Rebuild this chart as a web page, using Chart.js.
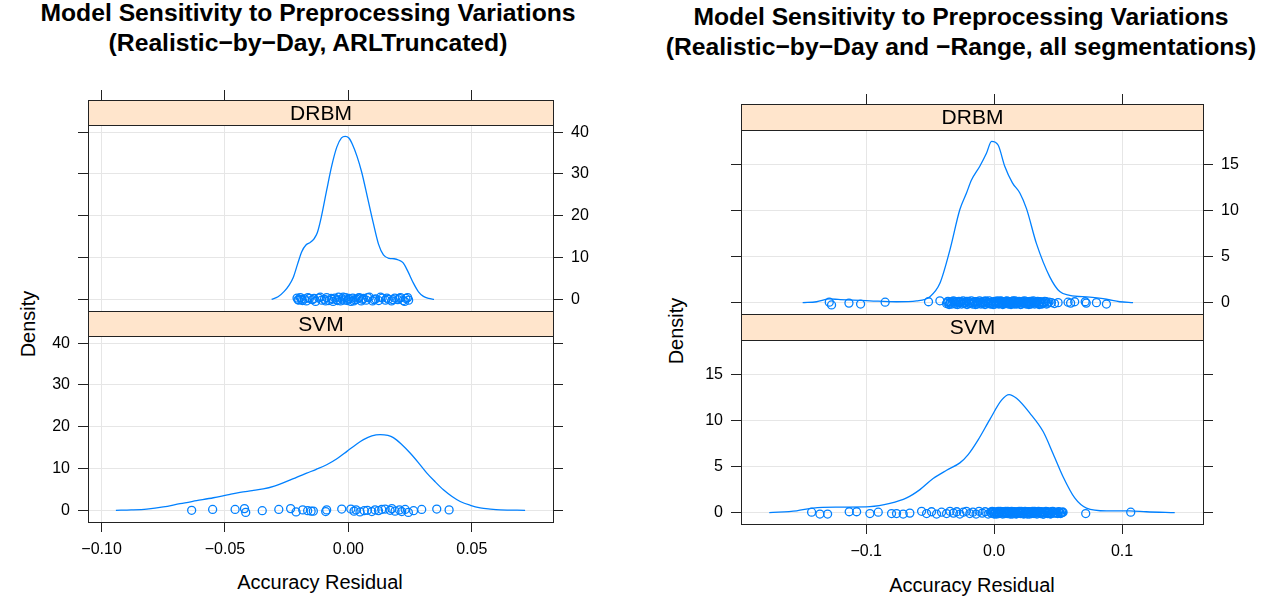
<!DOCTYPE html>
<html>
<head>
<meta charset="utf-8">
<script src="https://cdn.jsdelivr.net/npm/chart.js@4.4.1/dist/chart.umd.min.js"></script>
<style>
  html, body { margin: 0; padding: 0; background: #fff; overflow: hidden; }
  #page { position: relative; width: 1265px; height: 598px; font-family: "Liberation Sans", Arial, Helvetica, sans-serif; color: #000; }
  #page canvas { position: absolute; }
  .title { position: absolute; font-weight: bold; font-size: 24.7px; line-height: 30px; text-align: center; white-space: nowrap; }
  .xlab { position: absolute; font-size: 20px; white-space: nowrap; transform: translate(-50%, -50%); }
  .ylab { position: absolute; font-size: 20px; white-space: nowrap; transform: translate(-50%, -50%) rotate(-90deg); }
</style>
</head>
<body>
<div id="page">
  <div class="title" style="left:0;width:616px;top:-2px">Model Sensitivity to Preprocessing Variations<br>(Realistic−by−Day, ARLTruncated)</div>
  <div class="title" style="left:657px;width:608px;top:2px">Model Sensitivity to Preprocessing Variations<br>(Realistic−by−Day and −Range, all segmentations)</div>
  <div class="xlab" style="left:320px;top:582px">Accuracy Residual</div>
  <div class="xlab" style="left:972px;top:585px">Accuracy Residual</div>
  <div class="ylab" style="left:28px;top:324px">Density</div>
  <div class="ylab" style="left:676px;top:331px">Density</div>
</div>
<script>
// axis ticks
const leftXTicks = [-0.10, -0.05, 0.00, 0.05];
const leftXTickLabels = ['−0.10', '−0.05', '0.00', '0.05'];
const leftYTicks = [0, 10, 20, 30, 40];
const rightXTicks = [-0.1, 0.0, 0.1];
const rightXTickLabels = ['−0.1', '0.0', '0.1'];
const rightYTicks = [0, 5, 10, 15];

// left figure (Realistic-by-Day, ARLTruncated): density curves [residual, density]
const leftDrbmDensity = [
  [-0.0311, 0.0], [-0.0285, 0.6], [-0.0260, 1.9], [-0.0240, 3.4], [-0.0223, 5.3], [-0.0205, 8.6],
  [-0.0189, 11.4], [-0.0172, 13.0], [-0.0155, 13.6], [-0.0140, 14.4], [-0.0126, 15.9], [-0.0110, 19.6],
  [-0.0088, 26.1], [-0.0068, 31.8], [-0.0047, 36.4], [-0.0028, 38.6], [-0.0013, 39.0], [0.0002, 38.6],
  [0.0017, 37.0], [0.0035, 34.2], [0.0054, 30.4], [0.0078, 24.2], [0.0101, 18.2], [0.0122, 13.2],
  [0.0142, 10.6], [0.0165, 9.8], [0.0185, 9.7], [0.0203, 9.4], [0.0222, 8.7], [0.0240, 6.8],
  [0.0264, 3.8], [0.0284, 1.8], [0.0304, 0.7], [0.0325, 0.2], [0.0347, 0.0]
];
const leftSvmDensity = [
  [-0.0942, 0.0], [-0.0880, 0.1], [-0.0817, 0.3], [-0.0750, 0.8], [-0.0682, 1.6], [-0.0615, 2.3],
  [-0.0547, 3.0], [-0.0490, 3.7], [-0.0439, 4.3], [-0.0390, 4.7], [-0.0345, 5.1], [-0.0300, 5.8],
  [-0.0250, 6.9], [-0.0210, 7.9], [-0.0169, 8.9], [-0.0130, 9.8], [-0.0088, 10.9], [-0.0045, 12.4],
  [-0.0006, 14.1], [0.0030, 15.7], [0.0061, 16.9], [0.0095, 17.8], [0.0129, 18.1], [0.0160, 17.9],
  [0.0182, 17.4], [0.0215, 15.8], [0.0250, 13.7], [0.0285, 11.3], [0.0318, 8.9], [0.0352, 6.8],
  [0.0385, 4.9], [0.0420, 3.3], [0.0453, 2.1], [0.0494, 1.2], [0.0534, 0.6], [0.0575, 0.3],
  [0.0615, 0.1], [0.0716, 0.0]
];
// observed residuals [residual, jittered height]
const leftDrbmPoints = [
  [-0.0208, 0.3], [-0.0201, -0.2], [-0.0195, 0.4], [-0.0186, -0.3], [-0.0178, 0.1], [-0.0170, -0.4],
  [-0.0158, 0.2], [-0.0146, -0.1], [-0.0133, -0.5], [-0.0120, 0.3], [-0.0108, -0.2], [-0.0097, 0.0],
  [-0.0088, 0.4], [-0.0079, -0.3], [-0.0070, 0.2], [-0.0062, -0.5], [-0.0055, 0.3], [-0.0047, -0.1],
  [-0.0040, 0.5], [-0.0032, -0.4], [-0.0025, 0.1], [-0.0018, -0.2], [-0.0011, 0.4], [-0.0004, -0.3],
  [0.0003, 0.2], [0.0010, -0.5], [0.0018, 0.3], [0.0026, -0.1], [0.0035, 0.0], [0.0044, 0.4],
  [0.0052, -0.4], [0.0061, 0.2], [0.0072, -0.2], [0.0085, 0.5], [0.0098, -0.4], [0.0110, 0.1],
  [0.0123, -0.3], [0.0137, 0.3], [0.0150, -0.2], [0.0162, 0.0], [0.0175, -0.4], [0.0188, 0.3],
  [0.0200, -0.1], [0.0211, 0.4], [0.0222, -0.3], [0.0233, 0.2], [0.0244, -0.2],
  [-0.0204, -0.1], [-0.0190, 0.0], [-0.0164, 0.4], [-0.0139, 0.2], [-0.0114, 0.5], [-0.0092, -0.4],
  [-0.0066, 0.0], [-0.0044, -0.3], [-0.0021, 0.5], [0.0000, 0.0], [0.0022, -0.4], [0.0040, 0.3],
  [0.0057, 0.0], [0.0078, 0.4], [0.0104, -0.1], [0.0130, 0.5], [0.0156, 0.3], [0.0181, -0.1],
  [0.0206, 0.2], [0.0228, -0.5], [0.0240, 0.4]
];
const leftSvmPoints = [
  [-0.0635, 0.0], [-0.0550, 0.2], [-0.0459, 0.2], [-0.0421, 0.4], [-0.0416, -0.5], [-0.0349, -0.1],
  [-0.0282, 0.2], [-0.0234, 0.4], [-0.0212, -0.4], [-0.0185, 0.1], [-0.0165, -0.1], [-0.0151, -0.2],
  [-0.0142, -0.2], [-0.0092, -0.3], [-0.0088, 0.1], [-0.0027, 0.3], [0.0010, 0.3], [0.0023, -0.2],
  [0.0031, 0.1], [0.0047, -0.4], [0.0064, -0.1], [0.0077, 0.0], [0.0095, -0.3], [0.0108, 0.1],
  [0.0122, -0.1], [0.0135, 0.2], [0.0149, 0.3], [0.0169, 0.0], [0.0176, 0.4], [0.0189, -0.2],
  [0.0207, 0.1], [0.0216, -0.3], [0.0230, 0.2], [0.0243, -0.5], [0.0264, -0.1], [0.0297, 0.2],
  [0.0358, 0.3], [0.0408, 0.1]
];

// right figure (Realistic-by-Day and -Range, all segmentations)
const rightDrbmDensity = [
  [-0.1497, 0.0], [-0.1388, 0.1], [-0.1284, 0.4], [-0.1220, 0.35], [-0.1153, 0.3], [-0.0971, 0.2],
  [-0.0763, 0.1], [-0.0606, 0.2], [-0.0502, 0.65], [-0.0424, 2.1], [-0.0346, 5.7], [-0.0268, 10.1],
  [-0.0216, 11.9], [-0.0177, 13.3], [-0.0112, 14.8], [-0.0060, 16.2], [-0.0020, 17.5], [0.0031, 17.1],
  [0.0083, 14.8], [0.0143, 13.0], [0.0201, 11.9], [0.0253, 10.2], [0.0331, 6.4], [0.0435, 2.8],
  [0.0513, 1.2], [0.0591, 0.8], [0.0748, 0.6], [0.0878, 0.37], [0.0982, 0.1], [0.1086, 0.0]
];
const rightSvmDensity = [
  [-0.1758, 0.0], [-0.1544, 0.2], [-0.1414, 0.5], [-0.1205, 0.6], [-0.0971, 0.65], [-0.0815, 1.0],
  [-0.0684, 1.6], [-0.0580, 2.5], [-0.0477, 3.7], [-0.0372, 4.6], [-0.0268, 5.4], [-0.0203, 6.3],
  [-0.0125, 7.9], [-0.0034, 10.1], [0.0058, 12.2], [0.0117, 12.8], [0.0175, 12.4], [0.0279, 10.8],
  [0.0383, 8.8], [0.0461, 6.4], [0.0539, 3.9], [0.0630, 1.6], [0.0722, 0.5], [0.0878, 0.2],
  [0.1060, 0.2], [0.1190, 0.1], [0.1412, 0.0]
];
const rightDrbmPoints = [
  [-0.1289, 0.05], [-0.1271, -0.25], [-0.1135, -0.05], [-0.1044, -0.15], [-0.0852, 0.05], [-0.0513, 0.1],
  [-0.0424, 0.2], [-0.0372, -0.1], [-0.0361, 0.15], [-0.0352, -0.2], [-0.0340, 0.05], [-0.0331, -0.15],
  [-0.0318, 0.2], [-0.0309, -0.05], [-0.0297, 0.1], [-0.0286, -0.2], [-0.0275, 0.15], [-0.0266, 0.0],
  [-0.0254, -0.15], [-0.0243, 0.2], [-0.0233, -0.1], [-0.0221, 0.05], [-0.0212, -0.2], [-0.0200, 0.15],
  [-0.0189, -0.05], [-0.0178, 0.2], [-0.0169, -0.15], [-0.0157, 0.05], [-0.0146, -0.2], [-0.0137, 0.1],
  [-0.0125, -0.05], [-0.0114, 0.2], [-0.0103, -0.15], [-0.0094, 0.0], [-0.0082, 0.15], [-0.0071, -0.2],
  [-0.0062, 0.1], [-0.0050, -0.1], [-0.0039, 0.2], [-0.0030, -0.15], [-0.0018, 0.05], [-0.0007, -0.2],
  [0.0004, 0.15], [0.0013, -0.05], [0.0025, 0.2], [0.0036, -0.15], [0.0045, 0.0], [0.0057, 0.15],
  [0.0068, -0.2], [0.0077, 0.1], [0.0089, -0.1], [0.0100, 0.2], [0.0111, -0.15], [0.0120, 0.05],
  [0.0132, -0.2], [0.0143, 0.15], [0.0152, -0.05], [0.0164, 0.2], [0.0175, -0.15], [0.0186, 0.0],
  [0.0195, 0.15], [0.0207, -0.2], [0.0218, 0.1], [0.0229, -0.1], [0.0238, 0.2], [0.0250, -0.15],
  [0.0261, 0.05], [0.0272, -0.2], [0.0283, 0.15], [0.0294, -0.05], [0.0306, 0.2], [0.0317, -0.15],
  [0.0329, 0.0], [0.0340, 0.15], [0.0352, -0.2], [0.0365, 0.1], [0.0381, -0.1], [0.0396, 0.15],
  [0.0410, -0.15], [0.0428, 0.05], [0.0448, 0.0], [0.0472, -0.1], [0.0500, 0.0], [0.0578, 0.05],
  [0.0598, -0.05], [0.0630, 0.1], [0.0712, 0.1], [0.0720, -0.05], [0.0800, 0.0], [0.0878, -0.15],
  [-0.0366, 0.05], [-0.0346, -0.05], [-0.0325, 0.1], [-0.0302, -0.15], [-0.0280, 0.0], [-0.0260, 0.1],
  [-0.0238, -0.05], [-0.0216, 0.15], [-0.0195, -0.1], [-0.0173, 0.0], [-0.0151, 0.1], [-0.0131, -0.15],
  [-0.0108, 0.05], [-0.0088, -0.1], [-0.0066, 0.2], [-0.0045, 0.0], [-0.0024, -0.1], [-0.0002, 0.05],
  [0.0008, -0.15], [0.0019, 0.1], [0.0030, 0.0], [0.0041, -0.1], [0.0051, 0.2], [0.0062, 0.0],
  [0.0072, -0.1], [0.0083, 0.05], [0.0094, 0.15], [0.0105, -0.05], [0.0115, 0.1], [0.0126, -0.1],
  [0.0138, 0.0], [0.0148, 0.2], [0.0158, -0.15], [0.0170, 0.05], [0.0181, -0.1], [0.0190, 0.1],
  [0.0201, 0.0], [0.0212, -0.15], [0.0223, 0.15], [0.0234, 0.0], [0.0244, -0.05], [0.0256, 0.1],
  [0.0267, -0.1], [0.0278, 0.05], [0.0289, -0.15], [0.0300, 0.1], [0.0312, 0.0], [0.0323, -0.05],
  [0.0335, 0.1], [0.0346, -0.1], [0.0358, 0.05], [0.0373, -0.15], [0.0388, 0.0], [0.0403, 0.1],
  [0.0418, -0.05]
];
const rightSvmPoints = [
  [-0.1427, 0.05], [-0.1362, -0.15], [-0.1302, -0.15], [-0.1133, 0.1], [-0.1075, 0.1], [-0.0971, -0.1],
  [-0.0906, 0.05], [-0.0802, -0.1], [-0.0763, -0.1], [-0.0711, -0.15], [-0.0659, -0.05], [-0.0567, 0.15],
  [-0.0528, -0.1], [-0.0489, 0.1], [-0.0450, -0.15], [-0.0411, 0.05], [-0.0372, -0.1], [-0.0345, 0.15],
  [-0.0318, -0.05], [-0.0292, 0.1], [-0.0268, -0.15], [-0.0241, 0.05], [-0.0217, 0.15], [-0.0190, -0.1],
  [-0.0166, 0.05], [-0.0141, -0.15], [-0.0118, 0.15], [-0.0093, -0.05], [-0.0070, 0.1], [-0.0047, -0.15],
  [-0.0027, 0.05], [-0.0015, 0.15], [-0.0003, -0.1], [0.0008, 0.05], [0.0020, -0.15], [0.0032, 0.15],
  [0.0043, -0.05], [0.0055, 0.1], [0.0067, -0.15], [0.0078, 0.05], [0.0090, 0.15], [0.0102, -0.1],
  [0.0113, 0.05], [0.0125, -0.15], [0.0137, 0.15], [0.0148, -0.05], [0.0160, 0.1], [0.0172, -0.15],
  [0.0183, 0.05], [0.0195, 0.15], [0.0207, -0.1], [0.0218, 0.05], [0.0230, -0.15], [0.0242, 0.15],
  [0.0253, -0.05], [0.0265, 0.1], [0.0277, -0.15], [0.0288, 0.05], [0.0300, 0.15], [0.0312, -0.1],
  [0.0323, 0.05], [0.0335, -0.15], [0.0347, 0.15], [0.0358, -0.05], [0.0370, 0.1], [0.0382, -0.15],
  [0.0393, 0.05], [0.0405, 0.15], [0.0417, -0.1], [0.0428, 0.05], [0.0440, -0.15], [0.0452, 0.1],
  [0.0465, -0.05], [0.0480, 0.05], [0.0497, -0.1], [0.0512, 0.05], [0.0528, 0.0], [0.0539, 0.05],
  [0.0716, -0.1], [0.1068, 0.05],
  [-0.0021, -0.05], [-0.0009, 0.1], [0.0002, -0.15], [0.0014, 0.05], [0.0026, 0.0], [0.0037, -0.1],
  [0.0049, 0.15], [0.0061, -0.05], [0.0072, 0.1], [0.0084, -0.1], [0.0096, 0.0], [0.0107, 0.15],
  [0.0119, -0.05], [0.0131, 0.05], [0.0142, -0.15], [0.0154, 0.1], [0.0166, 0.0], [0.0177, -0.1],
  [0.0189, 0.1], [0.0201, -0.05], [0.0212, 0.15], [0.0224, 0.0], [0.0236, -0.1], [0.0247, 0.05],
  [0.0259, -0.15], [0.0271, 0.1], [0.0282, 0.0], [0.0294, -0.1], [0.0306, 0.05], [0.0317, 0.15],
  [0.0329, -0.05], [0.0341, 0.0], [0.0352, 0.1], [0.0364, -0.1], [0.0376, 0.05], [0.0387, -0.15],
  [0.0399, 0.0], [0.0411, 0.1], [0.0422, -0.05], [0.0434, 0.05], [0.0446, -0.1], [0.0458, 0.15],
  [0.0472, 0.0], [0.0488, -0.05], [0.0504, 0.1], [0.0520, -0.1], [0.0534, 0.05]
];

Chart.defaults.font.family = '"Liberation Sans", Arial, Helvetica, sans-serif';
const LINE_COL = '#0080ff';
const AXIS_COL = '#222222';
const GRID_COL = '#e6e6e6';

// lattice-style strip above each panel
const stripPlugin = {
  id: 'strip',
  afterDraw(chart, args, opts) {
    if (!opts.text) return;
    const { ctx, chartArea } = chart;
    const left = Math.round(chartArea.left) + 0.5;
    const right = Math.round(chartArea.right) + 0.5;
    const bottom = Math.round(chartArea.top) + 0.5;
    const top = bottom - opts.height;
    ctx.save();
    ctx.fillStyle = '#ffe5cc';
    ctx.fillRect(left, top, right - left, opts.height);
    ctx.strokeStyle = AXIS_COL;
    ctx.lineWidth = 1;
    ctx.strokeRect(left, top, right - left, opts.height);
    ctx.fillStyle = '#000';
    ctx.font = '21px "Liberation Sans", Arial, Helvetica, sans-serif';
    ctx.textAlign = 'center';
    ctx.textBaseline = 'middle';
    ctx.fillText(opts.text, (left + right) / 2, top + opts.height / 2 + 1);
    ctx.restore();
  }
};

function tickLabel(values, labels) {
  return v => {
    const i = values.indexOf(v);
    return i >= 0 ? labels[i] : '';
  };
}

function makePanel(cfg) {
  const page = document.getElementById('page');
  const canvas = document.createElement('canvas');
  const w = cfg.right - cfg.left + cfg.ml + cfg.mr;
  const h = cfg.bottom - cfg.top + cfg.mt + cfg.mb;
  canvas.width = w;
  canvas.height = h;
  canvas.style.left = (cfg.left - cfg.ml) + 'px';
  canvas.style.top = (cfg.top - cfg.mt) + 'px';
  canvas.style.width = w + 'px';
  canvas.style.height = h + 'px';
  page.appendChild(canvas);

  const xLabel = tickLabel(cfg.xTicks, cfg.xTickLabels);
  const tickFont = { size: 16 };
  const border = { display: true, color: AXIS_COL, width: 1 };

  new Chart(canvas, {
    type: 'scatter',
    data: {
      datasets: [
        {
          data: cfg.density.map(p => ({ x: p[0], y: p[1] })),
          showLine: true,
          borderColor: LINE_COL,
          borderWidth: 1.3,
          pointRadius: 0,
          cubicInterpolationMode: 'monotone',
          fill: false
        },
        {
          data: cfg.points.map(p => ({ x: p[0], y: p[1] })),
          showLine: false,
          pointStyle: 'circle',
          pointRadius: 4,
          pointBorderWidth: 1.3,
          pointBorderColor: LINE_COL,
          pointBackgroundColor: 'rgba(0,0,0,0)'
        }
      ]
    },
    options: {
      responsive: false,
      animation: false,
      events: [],
      layout: { padding: 0 },
      plugins: {
        legend: { display: false },
        tooltip: { enabled: false },
        strip: { text: cfg.strip, height: cfg.stripH }
      },
      scales: {
        x: {
          type: 'linear', position: 'bottom', min: cfg.xMin, max: cfg.xMax,
          afterBuildTicks: s => { s.ticks = cfg.xTicks.map(v => ({ value: v })); },
          afterFit: s => { s.height = cfg.mb; },
          ticks: { display: cfg.bottomLabels, callback: xLabel, font: tickFont, color: '#000', padding: 8, maxRotation: 0, autoSkip: false },
          grid: { color: GRID_COL, drawTicks: cfg.bottomLabels, tickLength: 10, tickColor: AXIS_COL },
          border: border
        },
        xTop: {
          type: 'linear', position: 'top', min: cfg.xMin, max: cfg.xMax,
          afterBuildTicks: s => { s.ticks = cfg.xTicks.map(v => ({ value: v })); },
          afterFit: s => { s.height = cfg.mt; },
          ticks: { display: false },
          grid: { drawOnChartArea: false, drawTicks: cfg.topTicks, tickLength: cfg.stripH + 10, tickColor: AXIS_COL },
          border: border
        },
        y: {
          type: 'linear', position: 'left', min: cfg.yMin, max: cfg.yMax,
          afterBuildTicks: s => { s.ticks = cfg.yTicks.map(v => ({ value: v })); },
          afterFit: s => { s.width = cfg.ml; },
          ticks: { display: cfg.leftLabels, callback: v => String(v), font: tickFont, color: '#000', padding: 8 },
          grid: { color: GRID_COL, drawTicks: true, tickLength: 10, tickColor: AXIS_COL },
          border: border
        },
        y2: {
          type: 'linear', position: 'right', min: cfg.yMin, max: cfg.yMax,
          afterBuildTicks: s => { s.ticks = cfg.yTicks.map(v => ({ value: v })); },
          afterFit: s => { s.width = cfg.mr; },
          ticks: { display: cfg.rightLabels, callback: v => String(v), font: tickFont, color: '#000', padding: 8 },
          grid: { drawOnChartArea: false, drawTicks: true, tickLength: 10, tickColor: AXIS_COL },
          border: border
        }
      }
    },
    plugins: [stripPlugin]
  });
}

// the bottom margin of the upper panels is kept wide enough that the tick label padding does not shrink the plot area
const leftCommon = { left: 88, right: 553, ml: 70, mr: 70, xMin: -0.1055, xMax: 0.0829, yMin: -2.8, yMax: 41.7,
  xTicks: leftXTicks, xTickLabels: leftXTickLabels, yTicks: leftYTicks, stripH: 25 };
const rightCommon = { left: 741, right: 1203, ml: 70, mr: 60, xMin: -0.1979, xMax: 0.1633, yMin: -1.23, yMax: 18.73,
  xTicks: rightXTicks, xTickLabels: rightXTickLabels, yTicks: rightYTicks, stripH: 26 };

makePanel(Object.assign({}, leftCommon, {
  top: 125, bottom: 311, mt: 40, mb: 24, strip: 'DRBM',
  topTicks: true, bottomLabels: false, leftLabels: false, rightLabels: true,
  density: leftDrbmDensity, points: leftDrbmPoints
}));
makePanel(Object.assign({}, leftCommon, {
  top: 336, bottom: 522, mt: 30, mb: 45, strip: 'SVM',
  topTicks: false, bottomLabels: true, leftLabels: true, rightLabels: false,
  density: leftSvmDensity, points: leftSvmPoints
}));
makePanel(Object.assign({}, rightCommon, {
  top: 130, bottom: 314, mt: 41, mb: 24, strip: 'DRBM',
  topTicks: true, bottomLabels: false, leftLabels: false, rightLabels: true,
  density: rightDrbmDensity, points: rightDrbmPoints
}));
makePanel(Object.assign({}, rightCommon, {
  top: 340, bottom: 524, mt: 30, mb: 45, strip: 'SVM',
  topTicks: false, bottomLabels: true, leftLabels: true, rightLabels: false,
  density: rightSvmDensity, points: rightSvmPoints
}));
</script>
</body>
</html>
